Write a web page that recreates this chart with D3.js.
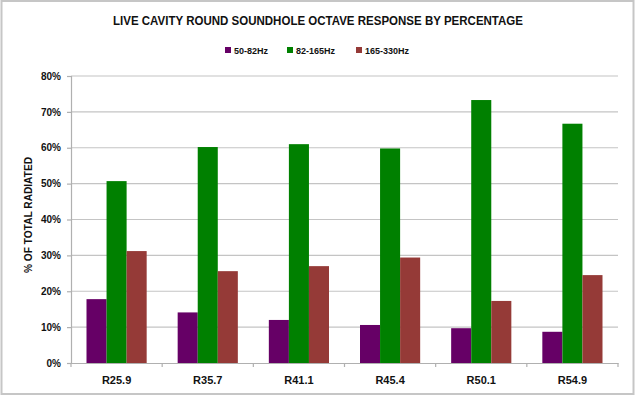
<!DOCTYPE html>
<html>
<head>
<meta charset="utf-8">
<script src="https://cdn.jsdelivr.net/npm/d3@7"></script>
<style>
  body { margin: 0; background: #fff; }
  text { font-family: "Liberation Sans", Arial, sans-serif; font-weight: bold; fill: #111; }
</style>
</head>
<body>
<div id="chart"></div>
<script>
// categories and series (percent of total radiated)
var categories = ["R25.9", "R35.7", "R41.1", "R45.4", "R50.1", "R54.9"];
var seriesNames = ["50-82Hz", "82-165Hz", "165-330Hz"];
var low = [17.8, 14.1, 12.0, 10.6, 9.7, 8.7];
var mid = [50.7, 60.2, 61.0, 59.8, 73.3, 66.7];
var high = [31.2, 25.6, 27.0, 29.4, 17.3, 24.5];
var yTicks = [0, 10, 20, 30, 40, 50, 60, 70, 80];

var colors = ["#660066", "#008000", "#953a37"];

var width = 636,
    height = 397;

var svg = d3.select("#chart")
    .append("svg")
    .attr("width", width)
    .attr("height", height);

// outer frame
svg.append("rect")
    .attr("x", 1.5).attr("y", 1)
    .attr("width", 632).attr("height", 393)
    .attr("fill", "none")
    .attr("stroke", "#c6c6c6")
    .attr("stroke-width", 2);

var x = d3.scaleBand()
    .domain(categories)
    .range([71, 618])
    .paddingInner(0.34)
    .paddingOuter(0.17);

var xSub = d3.scaleBand()
    .domain(seriesNames)
    .range([0, x.bandwidth()]);

var y = d3.scaleLinear()
    .domain([0, 80])
    .range([363, 76]);

// grid lines
svg.append("g")
    .selectAll("line")
    .data(yTicks.slice(1))
    .enter().append("line")
    .attr("x1", 71).attr("x2", 618)
    .attr("y1", function (d) { return y(d); })
    .attr("y2", function (d) { return y(d); })
    .attr("stroke", "#c4c4c4")
    .attr("stroke-width", 1.2);

// y axis
var yAxis = svg.append("g")
    .attr("transform", "translate(71,0)")
    .call(d3.axisLeft(y).tickValues(yTicks).tickSize(4).tickPadding(6)
        .tickFormat(function (d) { return d + "%"; }));
yAxis.selectAll("path, line").attr("stroke", "#b0b0b0").attr("stroke-width", 1.2);
yAxis.selectAll("text").style("font-size", "10px").attr("fill", "#222");

// bars
var rows = categories.map(function (c, i) {
    return { cat: c, vals: [low[i], mid[i], high[i]] };
});

var groups = svg.selectAll(".grp")
    .data(rows)
    .enter().append("g")
    .attr("class", "grp")
    .attr("transform", function (d) { return "translate(" + x(d.cat) + ",0)"; });

groups.selectAll("rect")
    .data(function (d) {
        return d.vals.map(function (v, j) { return { name: seriesNames[j], value: v, j: j }; });
    })
    .enter().append("rect")
    .attr("x", function (d) { return xSub(d.name); })
    .attr("width", xSub.bandwidth())
    .attr("y", function (d) { return y(d.value); })
    .attr("height", function (d) { return y(0) - y(d.value); })
    .attr("fill", function (d) { return colors[d.j]; });

// x axis
var xAxis = svg.append("g")
    .attr("transform", "translate(0,363)")
    .call(d3.axisBottom(x).tickSize(0).tickPadding(13));
xAxis.select("path").attr("stroke", "#b0b0b0").attr("stroke-width", 1.2);
xAxis.selectAll("text").style("font-size", "11px").attr("fill", "#222");

// ticks between categories
svg.append("g")
    .selectAll("line")
    .data(d3.range(categories.length + 1))
    .enter().append("line")
    .attr("x1", function (i) { return 71 + i * x.step(); })
    .attr("x2", function (i) { return 71 + i * x.step(); })
    .attr("y1", 363).attr("y2", 367)
    .attr("stroke", "#b0b0b0")
    .attr("stroke-width", 1.2);

// title
svg.append("text")
    .attr("x", 318).attr("y", 25)
    .attr("text-anchor", "middle")
    .attr("textLength", 410)
    .attr("lengthAdjust", "spacingAndGlyphs")
    .style("font-size", "12px")
    .text("LIVE CAVITY ROUND SOUNDHOLE OCTAVE RESPONSE BY PERCENTAGE");

// y label
svg.append("text")
    .attr("transform", "translate(32,215) rotate(-90)")
    .attr("text-anchor", "middle")
    .attr("textLength", 116)
    .attr("lengthAdjust", "spacingAndGlyphs")
    .style("font-size", "11.5px")
    .text("% OF TOTAL RADIATED");

// legend
var legendX = [225, 287, 356];
var legend = svg.selectAll(".leg")
    .data(seriesNames)
    .enter().append("g")
    .attr("class", "leg")
    .attr("transform", function (d, i) { return "translate(" + legendX[i] + ",47)"; });
legend.append("rect")
    .attr("width", 6).attr("height", 6)
    .attr("fill", function (d, i) { return colors[i]; });
legend.append("text")
    .attr("x", 9).attr("y", 7)
    .style("font-size", "9px")
    .text(function (d) { return d; });
</script>
</body>
</html>
